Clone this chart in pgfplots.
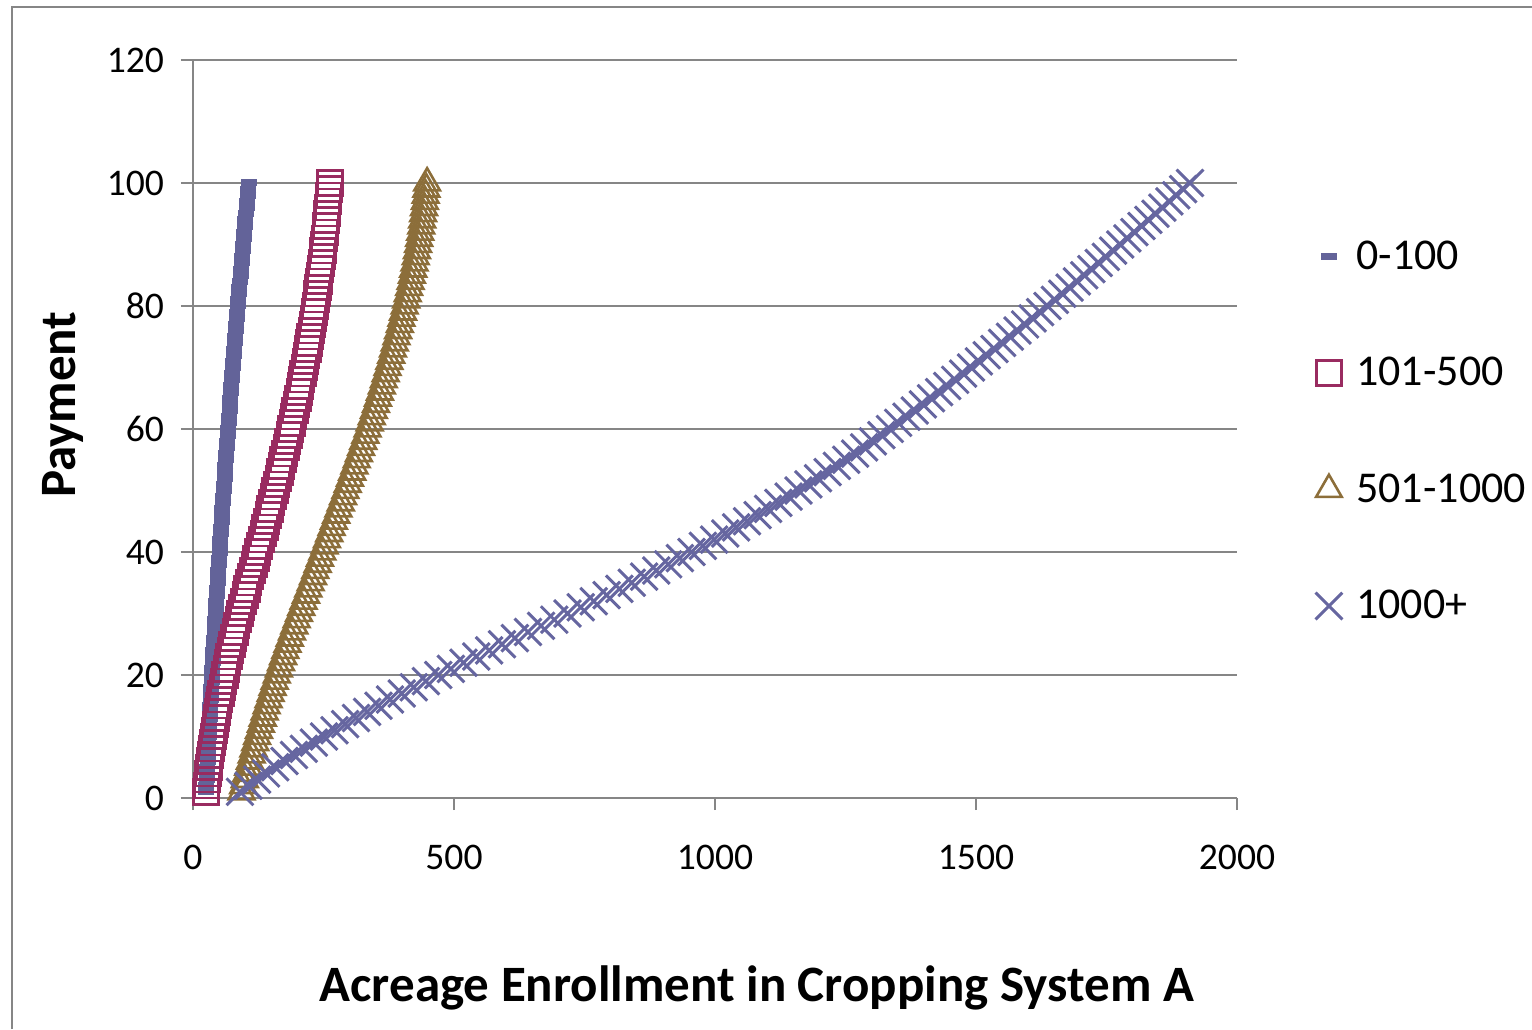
\documentclass[border=0pt]{standalone}
\usepackage{fontspec}
\setmainfont{Carlito}
\usepackage{pgfplots}
\pgfplotsset{compat=1.18}
\definecolor{cA}{RGB}{99,99,153}
\definecolor{cB}{RGB}{153,43,96}
\definecolor{cC}{RGB}{140,110,58}
\definecolor{cD}{RGB}{102,102,160}
\definecolor{axgray}{RGB}{134,134,134}
\begin{document}
\begin{tikzpicture}
\useasboundingbox (-96.5pt,-115.5pt) rectangle (669.5pt,399pt);
\draw[axgray, line width=0.8pt] (-90.5pt,-115.5pt) -- (-90.5pt,395.5pt) -- (669.5pt,395.5pt);
\begin{axis}[
  scale only axis, width=522pt, height=369pt,
  xmin=0, xmax=2000, ymin=0, ymax=120,
  xtick={0,500,...,2000}, ytick={0,20,...,120},
  axis x line*=bottom, axis y line*=left,
  axis line style={draw=axgray, line width=0.8pt, -},
  ymajorgrids, grid style={draw=axgray, line width=0.8pt},
  tick align=outside, major tick length=6pt,
  tick style={draw=axgray, line width=0.8pt},
  every tick label/.append style={font=\fontsize{18.8}{22}\selectfont, text=black},
  /pgf/number format/assume math mode=true,
  /pgf/number format/1000 sep={},
  xticklabel style={yshift=-14pt},
  yticklabel style={xshift=-5pt},
  xlabel={Acreage Enrollment in Cropping System A},
  ylabel={Payment},
  label style={font=\bfseries\fontsize{25.5}{30}\selectfont},
  xlabel style={at={(axis description cs:0.54,-0.258)}, anchor=center},
  ylabel style={at={(axis description cs:-0.1245,0.533)}, anchor=center},
  clip=false,
  legend style={draw=none, fill=none, font=\fontsize{22}{26}\selectfont,
    at={(axis description cs:1.0748,0.497)}, anchor=west, row sep=38.5pt,
    inner sep=0pt, /tikz/every odd column/.append style={column sep=5pt}},
  legend cell align=left,
]
\addplot[only marks, mark=-, mark size=4pt, color=cA, mark options={line width=3.5pt}] coordinates {
(25.0,1)(25.6,2)(26.1,3)(26.7,4)(27.3,5)(27.8,6)(28.4,7)(29.0,8)(29.6,9)(30.2,10)
(30.8,11)(31.4,12)(32.1,13)(32.7,14)(33.3,15)(34.0,16)(34.6,17)(35.2,18)(35.9,19)(36.6,20)
(37.2,21)(37.9,22)(38.6,23)(39.2,24)(39.9,25)(40.6,26)(41.3,27)(42.0,28)(42.7,29)(43.4,30)
(44.1,31)(44.9,32)(45.6,33)(46.3,34)(47.1,35)(47.8,36)(48.6,37)(49.3,38)(50.1,39)(50.9,40)
(51.6,41)(52.4,42)(53.2,43)(54.0,44)(54.8,45)(55.6,46)(56.4,47)(57.2,48)(58.0,49)(58.8,50)
(59.7,51)(60.5,52)(61.3,53)(62.2,54)(63.0,55)(63.9,56)(64.7,57)(65.6,58)(66.5,59)(67.4,60)
(68.2,61)(69.1,62)(70.0,63)(70.9,64)(71.8,65)(72.7,66)(73.6,67)(74.6,68)(75.5,69)(76.4,70)
(77.4,71)(78.3,72)(79.3,73)(80.2,74)(81.2,75)(82.1,76)(83.1,77)(84.1,78)(85.1,79)(86.1,80)
(87.0,81)(88.0,82)(89.0,83)(90.1,84)(91.1,85)(92.1,86)(93.1,87)(94.1,88)(95.2,89)(96.2,90)
(97.3,91)(98.3,92)(99.4,93)(100.4,94)(101.5,95)(102.6,96)(103.7,97)(104.8,98)(105.9,99)(107.0,100)
};
\addlegendentry{0-100}
\addplot[only marks, mark=square, mark size=6.2pt, color=cB, mark options={line width=1.25pt}] coordinates {
(25.0,1)(26.2,2)(27.5,3)(28.9,4)(30.4,5)(31.9,6)(33.5,7)(35.2,8)(37.0,9)(38.8,10)
(40.7,11)(42.7,12)(44.7,13)(46.8,14)(49.0,15)(51.3,16)(53.6,17)(56.0,18)(58.5,19)(61.1,20)
(63.7,21)(66.4,22)(69.2,23)(72.0,24)(74.9,25)(77.8,26)(80.8,27)(83.8,28)(86.9,29)(90.1,30)
(93.3,31)(96.6,32)(100.0,33)(103.4,34)(106.9,35)(110.3,36)(113.8,37)(117.3,38)(120.8,39)(124.2,40)
(127.7,41)(131.1,42)(134.4,43)(137.8,44)(141.1,45)(144.4,46)(147.6,47)(150.9,48)(154.1,49)(157.2,50)
(160.4,51)(163.5,52)(166.5,53)(169.6,54)(172.6,55)(175.6,56)(178.5,57)(181.5,58)(184.4,59)(187.2,60)
(190.1,61)(192.8,62)(195.6,63)(198.2,64)(200.9,65)(203.4,66)(206.0,67)(208.4,68)(210.9,69)(213.2,70)
(215.6,71)(217.8,72)(220.1,73)(222.2,74)(224.4,75)(226.4,76)(228.5,77)(230.4,78)(232.4,79)(234.2,80)
(236.1,81)(237.8,82)(239.6,83)(241.3,84)(242.9,85)(244.5,86)(246.1,87)(247.6,88)(249.1,89)(250.5,90)
(251.9,91)(253.2,92)(254.5,93)(255.7,94)(256.9,95)(258.1,96)(259.2,97)(260.2,98)(261.3,99)(262.2,100)
};
\addlegendentry{101-500}
\addplot[only marks, mark=triangle, mark size=7.4pt, color=cC, mark options={line width=1.3pt}] coordinates {
(93.0,1)(96.1,2)(99.3,3)(102.5,4)(105.8,5)(109.1,6)(112.5,7)(115.9,8)(119.3,9)(122.8,10)
(126.4,11)(130.0,12)(133.6,13)(137.3,14)(141.0,15)(144.8,16)(148.7,17)(152.5,18)(156.5,19)(160.5,20)
(164.5,21)(168.6,22)(172.7,23)(176.9,24)(181.1,25)(185.4,26)(189.7,27)(194.1,28)(198.5,29)(203.0,30)
(207.4,31)(211.9,32)(216.4,33)(220.9,34)(225.4,35)(229.9,36)(234.3,37)(238.8,38)(243.2,39)(247.7,40)
(252.1,41)(256.6,42)(261.0,43)(265.5,44)(269.9,45)(274.3,46)(278.7,47)(283.1,48)(287.5,49)(292.0,50)
(296.3,51)(300.7,52)(305.0,53)(309.3,54)(313.6,55)(317.8,56)(322.0,57)(326.2,58)(330.3,59)(334.5,60)
(338.5,61)(342.5,62)(346.5,63)(350.4,64)(354.3,65)(358.1,66)(361.8,67)(365.5,68)(369.1,69)(372.7,70)
(376.2,71)(379.7,72)(383.1,73)(386.5,74)(389.8,75)(393.0,76)(396.2,77)(399.3,78)(402.4,79)(405.5,80)
(408.4,81)(411.3,82)(414.1,83)(416.8,84)(419.4,85)(421.9,86)(424.4,87)(426.7,88)(429.0,89)(431.2,90)
(433.3,91)(435.3,92)(437.3,93)(439.1,94)(440.9,95)(442.6,96)(444.2,97)(445.7,98)(447.1,99)(448.5,100)
};
\addlegendentry{501-1000}
\addplot[only marks, mark=x, mark size=9.5pt, color=cD, mark options={line width=1.5pt}] coordinates {
(90.0,1)(106.2,2)(122.8,3)(139.9,4)(157.4,5)(175.3,6)(193.6,7)(212.3,8)(231.5,9)(251.1,10)
(271.1,11)(291.5,12)(312.3,13)(333.6,14)(355.3,15)(377.4,16)(399.9,17)(422.8,18)(446.2,19)(470.0,20)
(494.1,21)(518.3,22)(542.7,23)(567.2,24)(591.9,25)(616.7,26)(641.7,27)(666.8,28)(692.1,29)(717.5,30)
(742.8,31)(767.8,32)(792.4,33)(816.7,34)(840.6,35)(864.2,36)(887.4,37)(910.3,38)(932.8,39)(955.0,40)
(976.9,41)(998.4,42)(1019.7,43)(1040.6,44)(1061.3,45)(1081.6,46)(1101.7,47)(1121.4,48)(1140.9,49)(1160.0,50)
(1178.9,51)(1197.4,52)(1215.7,53)(1233.6,54)(1251.3,55)(1268.6,56)(1285.7,57)(1302.4,58)(1318.9,59)(1335.0,60)
(1351.0,61)(1366.8,62)(1382.6,63)(1398.3,64)(1413.9,65)(1429.4,66)(1444.8,67)(1460.1,68)(1475.4,69)(1490.5,70)
(1505.6,71)(1520.5,72)(1535.4,73)(1550.2,74)(1564.9,75)(1579.5,76)(1594.0,77)(1608.4,78)(1622.8,79)(1637.0,80)
(1651.2,81)(1665.3,82)(1679.4,83)(1693.4,84)(1707.3,85)(1721.2,86)(1735.1,87)(1748.8,88)(1762.6,89)(1776.3,90)
(1789.9,91)(1803.4,92)(1817.0,93)(1830.4,94)(1843.8,95)(1857.2,96)(1870.5,97)(1883.7,98)(1896.9,99)(1910.0,100)
};
\addlegendentry{1000+}
\end{axis}
\end{tikzpicture}
\end{document}
